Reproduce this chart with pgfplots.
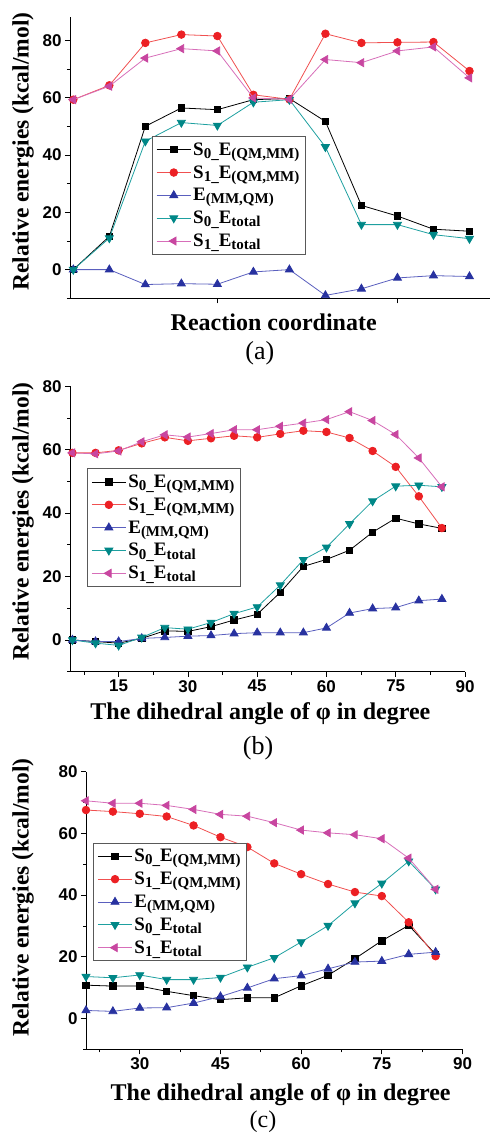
\documentclass[border=0pt]{standalone}
\usepackage{fontspec}
\setmainfont{Liberation Serif}
\newfontfamily\tickfont{Liberation Sans}
\usepackage{pgfplots}
\usepackage{pgfplotstable}
\pgfplotsset{compat=1.18}

\definecolor{cred}{RGB}{236,32,36}
\definecolor{credl}{RGB}{240,80,80}
\definecolor{cblue}{RGB}{40,50,160}
\definecolor{cbluel}{RGB}{90,95,190}
\definecolor{cteal}{RGB}{0,135,135}
\definecolor{cteall}{RGB}{30,160,160}
\definecolor{cmag}{RGB}{200,70,160}
\definecolor{cmagl}{RGB}{215,110,185}

\newcommand\sub[1]{\raisebox{-0.35ex}{\fontsize{15}{15}\selectfont #1}}

\pgfplotstableread{
x s0 s1 emm s0t s1t
1 0 59.3 0 0 59.3
2 11.6 64.3 0 11.0 64.0
3 50.0 79.1 -5.2 44.8 73.8
4 56.4 82.0 -4.9 51.3 77.1
5 55.8 81.5 -5.1 50.3 76.3
6 59.3 61.0 -0.8 58.4 59.9
7 59.7 59.4 0 59.3 59.4
8 51.7 82.3 -9.0 42.8 73.3
9 22.4 79.1 -6.7 15.7 72.2
10 18.7 79.3 -2.9 15.7 76.3
11 14.1 79.4 -2.1 12.2 77.7
12 13.4 69.3 -2.4 10.8 66.9
}\tabA

\pgfplotstableread{
x s0 s1 emm s0t s1t
5 0 59.0 0 0 59.0
10 -0.5 59.0 -0.5 -1.0 58.7
15 -1.0 59.8 -0.5 -1.7 59.6
20 0.5 62.0 0.5 0.8 62.5
25 2.9 63.9 0.8 3.9 64.7
30 2.7 62.8 1.2 3.4 64.0
35 4.2 63.6 1.4 5.5 65.1
40 6.3 64.4 2.0 8.3 66.3
45 8.1 63.9 2.3 10.4 66.3
50 15.0 65.0 2.3 17.3 67.4
55 23.2 66.0 2.3 25.3 68.4
60 25.4 65.6 3.8 29.2 69.5
65 28.3 63.7 8.5 36.6 72.0
70 34.0 59.6 9.9 43.8 69.2
75 38.4 54.6 10.2 48.5 64.8
80 36.6 45.3 12.4 48.8 57.4
85 35.2 35.3 12.9 48.3 48.3
}\tabB

\pgfplotstableread{
x s0 s1 emm s0t s1t
20 10.8 67.6 2.6 13.6 70.6
25 10.5 67.1 2.3 13.2 69.8
30 10.5 66.4 3.4 14.1 69.8
35 8.8 65.5 3.5 12.6 69.1
40 7.4 62.6 5.0 12.6 67.8
45 6.1 58.8 7.1 13.3 66.2
50 6.7 55.6 9.9 16.6 65.6
55 6.7 50.3 12.9 19.7 63.5
60 10.6 46.8 13.9 24.8 61.1
65 14.0 43.6 16.1 30.1 60.2
70 19.4 41.0 18.3 37.4 59.6
75 25.2 39.7 18.6 43.8 58.3
80 30.2 31.2 20.8 51.0 52.0
85 20.8 20.2 21.5 41.9 41.9
}\tabC

\pgfplotsset{
  myaxis/.style={
    scale only axis,
    clip mode=individual,
    axis x line*=bottom, axis y line*=left,
    tick align=outside,
    major tick length=5pt, minor tick length=3pt,
    every tick/.style={black, line width=0.8pt},
    axis line style={line width=0.9pt},
    ymin=-10, ytick={0,20,...,80}, minor ytick={-10,10,...,90},
    tick label style={font=\tickfont\bfseries\fontsize{17}{17}\selectfont},
    /pgf/number format/assume math mode=true,
    ylabel style={font=\rmfamily\bfseries\fontsize{23.5}{23.5}\selectfont},
    xlabel style={font=\rmfamily\bfseries\fontsize{24}{24}\selectfont},
    ylabel={Relative energies (kcal/mol)},
    legend cell align=left,
    legend style={font=\rmfamily\bfseries\fontsize{19}{19}\selectfont, draw=black!65, line width=0.8pt,
      anchor=north west, row sep=4.8pt, inner xsep=4pt, inner ysep=4pt, fill=white},
    legend image code/.code={\draw[mark repeat=2,mark phase=2] plot coordinates {(0cm,0cm) (0.6cm,0cm) (1.2cm,0cm)};},
    every axis plot/.append style={line width=0.8pt},
  },
  ps0/.style={black, mark=square*, mark size=3.2pt, mark options={solid, fill=black}},
  ps1/.style={credl, mark=*, mark size=3.8pt, mark options={fill=cred, draw=cred}},
  pemm/.style={cbluel, mark=triangle*, mark size=4.6pt, mark options={fill=cblue, draw=cblue}},
  ps0t/.style={cteall, mark=triangle*, mark size=4.6pt, mark options={rotate=180, fill=cteal, draw=cteal}},
  ps1t/.style={cmagl, mark=triangle*, mark size=4.6pt, mark options={rotate=90, fill=cmag, draw=cmag}},
}

\newcommand\entries{%
  \addlegendentry{S\sub{0\_}E\sub{(QM,MM)}}
  \addlegendentry{S\sub{1\_}E\sub{(QM,MM)}}
  \addlegendentry{E\sub{(MM,QM)}}
  \addlegendentry{S\sub{0\_}E\sub{total}}
  \addlegendentry{S\sub{1\_}E\sub{total}}
}

\begin{document}
\begin{tikzpicture}
\useasboundingbox (0,0) rectangle (491pt,1137pt);

% ---------- (a)
\begin{axis}[myaxis,
  at={(70pt,838.7pt)}, anchor=south west,
  width=420pt, height=280.9pt,
  xmin=0.908, xmax=12.57, ymax=88,
  xtick={5,10}, xticklabels={,},
  xlabel={Reaction coordinate},
  xlabel style={at={(axis description cs:0.485,-0.084)}, anchor=center},
  ylabel style={at={(axis description cs:-0.112,0.522)}, anchor=center},
  legend style={at={(0.195,0.577)}},
]
\addplot[ps0] table[x=x,y=s0]{\tabA};
\addplot[ps1] table[x=x,y=s1]{\tabA};
\addplot[pemm] table[x=x,y=emm]{\tabA};
\addplot[ps0t] table[x=x,y=s0t]{\tabA};
\addplot[ps1t] table[x=x,y=s1t]{\tabA};
\entries
\node[font=\rmfamily\fontsize{26}{26}\selectfont] at (axis description cs:0.452,-0.195) {(a)};
\end{axis}

% ---------- (b)
\begin{axis}[myaxis,
  at={(70pt,465.3pt)}, anchor=south west,
  width=395pt, height=285.4pt,
  xmin=4.47, xmax=90, ymax=80,
  xtick={15,30,...,90}, minor xtick={7.5,22.5,...,82.5},
  xlabel={The dihedral angle of φ in degree},
  xlabel style={at={(axis description cs:0.482,-0.148)}, anchor=center},
  ylabel style={at={(axis description cs:-0.119,0.526)}, anchor=center},
  legend style={at={(0.043,0.712)}},
]
\addplot[ps0] table[x=x,y=s0]{\tabB};
\addplot[ps1] table[x=x,y=s1]{\tabB};
\addplot[pemm] table[x=x,y=emm]{\tabB};
\addplot[ps0t] table[x=x,y=s0t]{\tabB};
\addplot[ps1t] table[x=x,y=s1t]{\tabB};
\entries
\node[font=\rmfamily\fontsize{26}{26}\selectfont] at (axis description cs:0.476,-0.267) {(b)};
\end{axis}

% ---------- (c)
\begin{axis}[myaxis,
  at={(86pt,87.7pt)}, anchor=south west,
  width=376.5pt, height=277.5pt,
  xmin=20, xmax=90, ymax=80,
  xtick={30,45,...,90}, minor xtick={22.5,37.5,...,82.5},
  xlabel={The dihedral angle of φ in degree},
  xlabel style={at={(axis description cs:0.517,-0.165)}, anchor=center},
  ylabel style={at={(axis description cs:-0.167,0.547)}, anchor=center},
  legend style={at={(0.019,0.744)}},
]
\addplot[ps0] table[x=x,y=s0]{\tabC};
\addplot[ps1] table[x=x,y=s1]{\tabC};
\addplot[pemm] table[x=x,y=emm]{\tabC};
\addplot[ps0t] table[x=x,y=s0t]{\tabC};
\addplot[ps1t] table[x=x,y=s1t]{\tabC};
\entries
\node[font=\rmfamily\fontsize{24}{24}\selectfont] at (axis description cs:0.47,-0.262) {(c)};
\end{axis}
\end{tikzpicture}
\end{document}
